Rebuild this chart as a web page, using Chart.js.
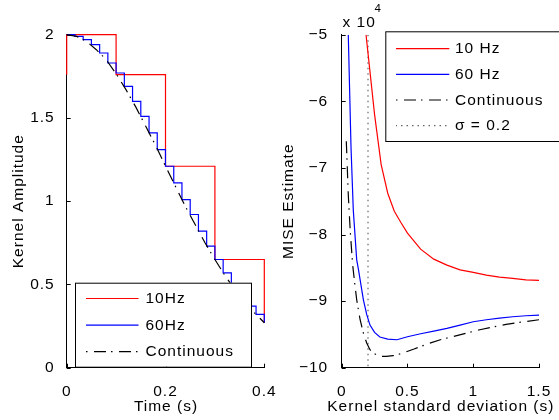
<!DOCTYPE html>
<html>
<head>
<meta charset="utf-8">
<script src="https://cdn.jsdelivr.net/npm/chart.js@4.4.1/dist/chart.umd.min.js"></script>
<style>
    html, body { margin: 0; padding: 0; background: #fff; }
    #wrap { position: relative; width: 559px; height: 420px; overflow: hidden; }
    #wrap canvas { position: absolute; left: 0; top: 0; }
</style>
</head>
<body>
<div id="wrap">
    <canvas id="kernel" width="559" height="420"></canvas>
    <canvas id="mise" width="559" height="420"></canvas>
</div>
<script>
// Left panel: kernel amplitude vs time
var T_10HZ = [0, 0, 0.1, 0.2, 0.3, 0.4];
var K_10HZ = [1.76, 2, 1.76, 1.21, 0.65, 0.27];

var T_60HZ = [0, 0.0167, 0.0333, 0.05, 0.0667, 0.0833, 0.1, 0.1167, 0.1333, 0.15, 0.1667, 0.1833, 0.2,
              0.2167, 0.2333, 0.25, 0.2667, 0.2833, 0.3, 0.3167, 0.3333, 0.35, 0.3667, 0.3833, 0.4];
var K_60HZ = [2, 1.99, 1.97, 1.94, 1.89, 1.83, 1.77, 1.69, 1.60, 1.51, 1.41, 1.31, 1.21,
              1.11, 1.01, 0.92, 0.82, 0.73, 0.65, 0.57, 0.50, 0.43, 0.37, 0.32, 0.27];

var T_CONT = [0, 0.02, 0.04, 0.06, 0.08, 0.1, 0.12, 0.14, 0.16, 0.18, 0.2,
              0.22, 0.24, 0.26, 0.28, 0.3, 0.32, 0.34, 0.36, 0.38, 0.4];
var K_CONT = [2, 1.99, 1.96, 1.91, 1.85, 1.765, 1.67, 1.565, 1.45, 1.335, 1.21,
              1.09, 0.97, 0.86, 0.75, 0.65, 0.555, 0.47, 0.395, 0.33, 0.27];

var KERNEL_X_TICKS = [0, 0.2, 0.4];
var KERNEL_Y_TICKS = [0, 0.5, 1, 1.5, 2];

// Right panel: MISE estimate (x 10^4) vs kernel standard deviation
var SIG_10HZ  = [0.185, 0.25, 0.3, 0.35, 0.4, 0.45, 0.5, 0.6, 0.7, 0.8, 0.9, 1.0, 1.1, 1.2, 1.3, 1.4, 1.5];
var MISE_10HZ = [-5.0, -6.2, -6.95, -7.38, -7.65, -7.82, -7.98, -8.22, -8.37, -8.46, -8.53, -8.57, -8.61, -8.64, -8.66, -8.68, -8.69];

var SIG_60HZ  = [0.05, 0.071, 0.088, 0.114, 0.126, 0.15, 0.165, 0.19, 0.215, 0.25, 0.29, 0.35, 0.42,
                 0.5, 0.6, 0.7, 0.8, 0.9, 1.0, 1.1, 1.2, 1.3, 1.4, 1.5];
var MISE_60HZ = [-5.0, -6.7, -7.63, -8.38, -8.51, -8.8, -8.98, -9.2, -9.36, -9.47, -9.54, -9.57, -9.58,
                 -9.535, -9.49, -9.45, -9.41, -9.36, -9.31, -9.28, -9.255, -9.235, -9.22, -9.21];

var SIG_CONT  = [0.035, 0.05, 0.065, 0.083, 0.1, 0.114, 0.14, 0.165, 0.19, 0.215, 0.25, 0.29, 0.34, 0.39,
                 0.45, 0.55, 0.65, 0.75, 0.85, 0.95, 1.05, 1.15, 1.25, 1.35, 1.5];
var MISE_CONT = [-6.6, -7.4, -7.95, -8.45, -8.75, -8.98, -9.28, -9.48, -9.63, -9.73, -9.79, -9.83, -9.83, -9.82,
                 -9.79, -9.72, -9.645, -9.58, -9.53, -9.48, -9.43, -9.39, -9.35, -9.32, -9.28];

var SIG_REF  = [0.2, 0.2];
var MISE_REF = [-5, -10];

var MISE_X_TICKS = [0, 0.5, 1, 1.5];
var MISE_Y_TICKS = [-10, -9, -8, -7, -6, -5];

var FONT = "'Liberation Sans', Arial, Helvetica, sans-serif";
var FONT_SIZE = 15.5;
var LINE_W = 1.2;
var DASHDOT = [12, 5, 1.5, 6.5];
var DOTTED = [1.5, 4];

Chart.defaults.font.family = FONT;
Chart.defaults.font.size = FONT_SIZE;
Chart.defaults.color = '#000';

function toPoints(xs, ys) {
    return xs.map(function (x, i) { return { x: x, y: ys[i] }; });
}

function plainLabel(v) { return String(v); }
function minusLabel(v) { return v < 0 ? '\u2212' + Math.abs(v) : String(v); }

function axis(o) {
    return {
        type: 'linear',
        min: o.min,
        max: o.max,
        afterBuildTicks: function (scale) {
            scale.ticks = o.ticks.map(function (v) { return { value: v }; });
        },
        afterFit: function (scale) {
            if (scale.isHorizontal()) scale.height = o.size;
            else scale.width = o.size;
            // keep chart area exactly where the padding puts it
            scale.paddingLeft = scale.paddingRight = scale.paddingTop = scale.paddingBottom = 0;
        },
        grid: { display: false },
        border: { display: true, color: '#000', width: 1 },
        ticks: { padding: o.pad, maxRotation: 0, autoSkip: false, callback: o.format },
        title: { display: !!o.title, text: o.title || '', padding: o.titlePad }
    };
}

// MATLAB-like wide text spacing
var spacing = {
    id: 'spacing',
    beforeUpdate: function (chart) { chart.ctx.letterSpacing = '1px'; },
    beforeDraw: function (chart) { chart.ctx.letterSpacing = '1px'; }
};

// ticks pointing into the plot
var inwardTicks = {
    id: 'inwardTicks',
    beforeDatasetsDraw: function (chart) {
        var ctx = chart.ctx, area = chart.chartArea;
        var xs = chart.scales.x, ys = chart.scales.y;
        ctx.save();
        ctx.strokeStyle = '#000';
        ctx.lineWidth = 1;
        ctx.beginPath();
        xs.ticks.forEach(function (t) {
            var px = Math.round(xs.getPixelForValue(t.value)) + 0.5;
            ctx.moveTo(px, area.bottom);
            ctx.lineTo(px, area.bottom - 4);
        });
        ys.ticks.forEach(function (t) {
            var py = Math.round(ys.getPixelForValue(t.value)) + 0.5;
            ctx.moveTo(area.left, py);
            ctx.lineTo(area.left + 4, py);
        });
        ctx.stroke();
        ctx.restore();
    }
};

// x-axis title drawn unclipped (the built-in one is squeezed to the axis width)
function xTitle(text) {
    return {
        id: 'xTitle',
        afterDraw: function (chart) {
            var ctx = chart.ctx, area = chart.chartArea;
            ctx.save();
            ctx.fillStyle = '#000';
            ctx.font = FONT_SIZE + 'px ' + FONT;
            ctx.textAlign = 'center';
            ctx.textBaseline = 'middle';
            ctx.fillText(text, (area.left + area.right) / 2 + 0.5, 407);
            ctx.restore();
        }
    };
}

function boxLegend(cfg) {
    return {
        id: 'boxLegend',
        afterDraw: function (chart) {
            var ctx = chart.ctx;
            var b = cfg.box;
            ctx.save();
            ctx.fillStyle = '#fff';
            ctx.fillRect(b[0], b[1], b[2] - b[0], b[3] - b[1]);
            ctx.strokeStyle = '#000';
            ctx.lineWidth = 1;
            ctx.strokeRect(b[0] + 0.5, b[1] + 0.5, b[2] - b[0], b[3] - b[1]);
            ctx.font = FONT_SIZE + 'px ' + FONT;
            ctx.textBaseline = 'middle';
            ctx.textAlign = 'left';
            chart.data.datasets.forEach(function (ds, i) {
                var y = cfg.rows[i];
                ctx.strokeStyle = ds.borderColor;
                ctx.lineWidth = LINE_W;
                ctx.setLineDash(ds.borderDash || []);
                ctx.lineDashOffset = ds.borderDash ? 17 : 0;
                ctx.beginPath();
                ctx.moveTo(cfg.line[0], y);
                ctx.lineTo(cfg.line[1], y);
                ctx.stroke();
                ctx.setLineDash([]);
                ctx.fillStyle = '#000';
                ctx.fillText(ds.label, cfg.textX, y + 0.5);
            });
            ctx.restore();
        }
    };
}

var exponentLabel = {
    id: 'exponentLabel',
    afterDraw: function (chart) {
        var ctx = chart.ctx;
        ctx.save();
        ctx.fillStyle = '#000';
        ctx.textBaseline = 'alphabetic';
        ctx.textAlign = 'left';
        ctx.font = FONT_SIZE + 'px ' + FONT;
        ctx.fillText('x 10', 342.5, 26.5);
        ctx.font = '11.5px ' + FONT;
        ctx.fillText('4', 374.5, 12);
        ctx.restore();
    }
};

function lineSet(label, xs, ys, color, extra) {
    var ds = {
        label: label,
        data: toPoints(xs, ys),
        borderColor: color,
        borderWidth: LINE_W,
        pointRadius: 0,
        fill: false,
        tension: 0
    };
    Object.keys(extra || {}).forEach(function (k) { ds[k] = extra[k]; });
    return ds;
}

new Chart(document.getElementById('kernel'), {
    type: 'line',
    data: {
        datasets: [
            lineSet('10Hz', T_10HZ, K_10HZ, '#ff0000', { stepped: 'before', order: 3, clip: 3 }),
            lineSet('60Hz', T_60HZ, K_60HZ, '#0000ff', { stepped: 'before', order: 2, clip: 3 }),
            lineSet('Continuous', T_CONT, K_CONT, '#000000', { borderDash: DASHDOT, order: 1, clip: 3 })
        ]
    },
    options: {
        responsive: false,
        animation: false,
        events: [],
        layout: { padding: { left: 0, top: 34.7, right: 294.7, bottom: 0 } },
        plugins: { legend: { display: false }, tooltip: { enabled: false } },
        scales: {
            x: axis({ min: 0, max: 0.4, ticks: KERNEL_X_TICKS, size: 52.3, pad: 7, format: plainLabel }),
            y: axis({ min: 0, max: 2, ticks: KERNEL_Y_TICKS, size: 66.7, pad: 4, format: plainLabel,
                      title: 'Kernel Amplitude', titlePad: { top: 9, bottom: 0 } })
        }
    },
    plugins: [spacing, inwardTicks, xTitle('Time (s)'), boxLegend({
        box: [75, 282.7, 251, 366.7],
        line: [86, 138.5],
        textX: 145.5,
        rows: [298.5, 325.2, 351.7]
    })]
});

new Chart(document.getElementById('mise'), {
    type: 'line',
    data: {
        datasets: [
            lineSet('10 Hz', SIG_10HZ, MISE_10HZ, '#ff0000', { order: 3 }),
            lineSet('60 Hz', SIG_60HZ, MISE_60HZ, '#0000ff', { order: 2 }),
            lineSet('Continuous', SIG_CONT, MISE_CONT, '#000000', { borderDash: DASHDOT, order: 1 }),
            lineSet('\u03c3 = 0.2', SIG_REF, MISE_REF, '#666666', { borderDash: DOTTED, order: 4 })
        ]
    },
    options: {
        responsive: false,
        animation: false,
        events: [],
        layout: { padding: { left: 279, top: 34.7, right: 20, bottom: 0 } },
        plugins: { legend: { display: false }, tooltip: { enabled: false } },
        scales: {
            x: axis({ min: 0, max: 1.5, ticks: MISE_X_TICKS, size: 52.3, pad: 7, format: plainLabel }),
            y: axis({ min: -10, max: -5, ticks: MISE_Y_TICKS, size: 62.7, pad: 5.5, format: minusLabel,
                      title: 'MISE Estimate', titlePad: { top: 0, bottom: 0 } })
        }
    },
    plugins: [spacing, inwardTicks, exponentLabel, xTitle('Kernel standard deviation (s)'), boxLegend({
        box: [385.3, 31.3, 575, 141],
        line: [396, 449.3],
        textX: 455,
        rows: [48.7, 74.3, 100, 125.7]
    })]
});
</script>
</body>
</html>
